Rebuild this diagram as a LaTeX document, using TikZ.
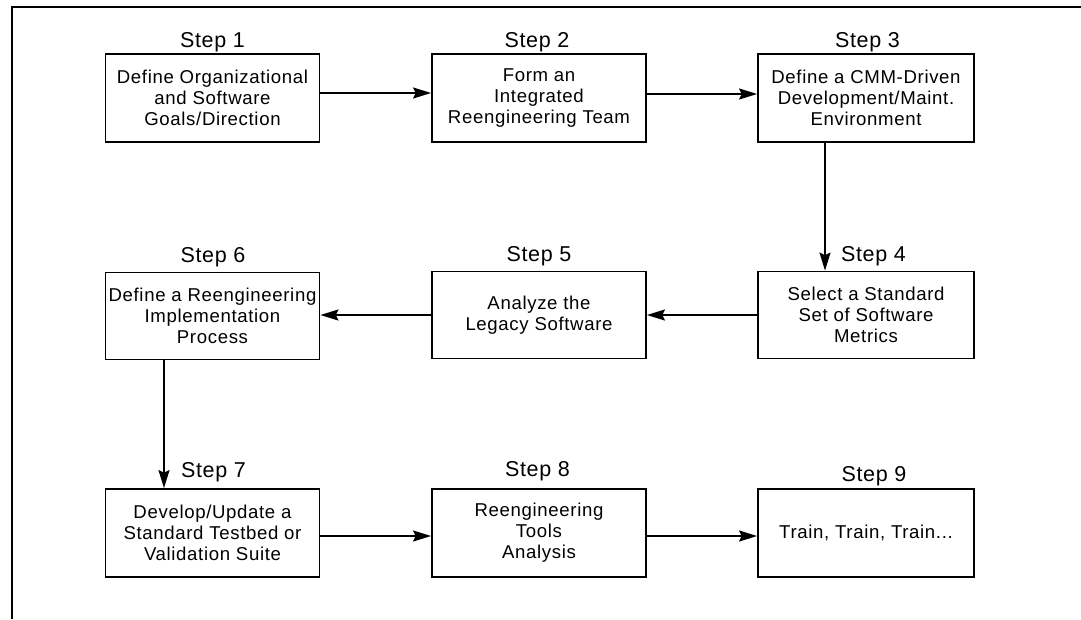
\documentclass[tikz,border=0pt]{standalone}
\usepackage{fontspec}
\setmainfont{Liberation Sans}
\newfontfamily\boxfont[LetterSpace=3.5]{Liberation Sans}
\newfontfamily\stepfont[LetterSpace=3]{Liberation Sans}
\usetikzlibrary{arrows.meta}
\tikzset{
  stepbox/.style={draw, line width=1.8pt, minimum width=214pt, minimum height=88pt,
    align=center, inner sep=0pt, font=\boxfont\fontsize{18.6}{21}\selectfont},
  steplabel/.style={anchor=base, inner sep=0pt, font=\stepfont\fontsize{21.5}{24}\selectfont},
  arr/.style={-{Stealth[length=18pt,width=11pt,inset=2.5pt]}, line width=1.6pt},
  frameline/.style={line width=1.8pt}
}
\begin{document}
\begin{tikzpicture}[x=1pt,y=-1pt]
\useasboundingbox[fill=white] (0,0) rectangle (1081,619);
% frame (top and left only)
\draw[frameline] (12,619) -- (12,7) -- (1081,7);
% boxes
\node[stepbox] (b1) at (212.5,98) {Define Organizational\\and Software\\Goals/Direction};
\node[stepbox] (b2) at (539,98) {Form an\\Integrated\\Reengineering Team};
\node[stepbox, minimum width=216pt] (b3) at (866,98) {Define a CMM-Driven\\Development/Maint.\\Environment};
\node[stepbox, minimum width=216pt, minimum height=87pt] (b4) at (866,315) {Select a Standard\\Set of Software\\Metrics};
\node[stepbox, minimum height=87pt] (b5) at (539,315) {Analyze the\\Legacy Software};
\node[stepbox, minimum height=87pt] (b6) at (212.5,316) {Define a Reengineering\\Implementation\\Process};
\node[stepbox] (b7) at (212.5,533) {Develop/Update a\\Standard Testbed or\\Validation Suite};
\node[stepbox] (b8) at (539,533) {Reengineering\\Tools\\Analysis};
\node[stepbox, minimum width=216pt] (b9) at (866,533) {Train, Train, Train...};
% step labels
\node[steplabel] (l1) at (212.5,47) {Step 1};
\node[steplabel] (l2) at (537,47) {Step 2};
\node[steplabel] (l3) at (867.5,47) {Step 3};
\node[steplabel] (l4) at (873.5,261) {Step 4};
\node[steplabel] (l5) at (539,261) {Step 5};
\node[steplabel] (l6) at (213,262) {Step 6};
\node[steplabel] (l7) at (213.5,477) {Step 7};
\node[steplabel] (l8) at (537.5,476) {Step 8};
\node[steplabel] (l9) at (874,481) {Step 9};
% connectors
\draw[arr] ([yshift=5pt]b1.east) -- ([yshift=5pt]b2.west);
\draw[arr] ([yshift=4pt]b2.east) -- ([yshift=4pt]b3.west);
\draw[arr] ([xshift=-41pt]b3.south) -- ([xshift=-41pt]b4.north);
\draw[arr] (b4.west) -- (b5.west -| b5.east);
\draw[arr] (b5.west) -- (b5.west -| b6.east);
\draw[arr] ([xshift=-48.5pt]b6.south) -- ([xshift=-48.5pt]b7.north);
\draw[arr] ([yshift=-3pt]b7.east) -- ([yshift=-3pt]b8.west);
\draw[arr] ([yshift=-3pt]b8.east) -- ([yshift=-3pt]b9.west);
\end{tikzpicture}
\end{document}
